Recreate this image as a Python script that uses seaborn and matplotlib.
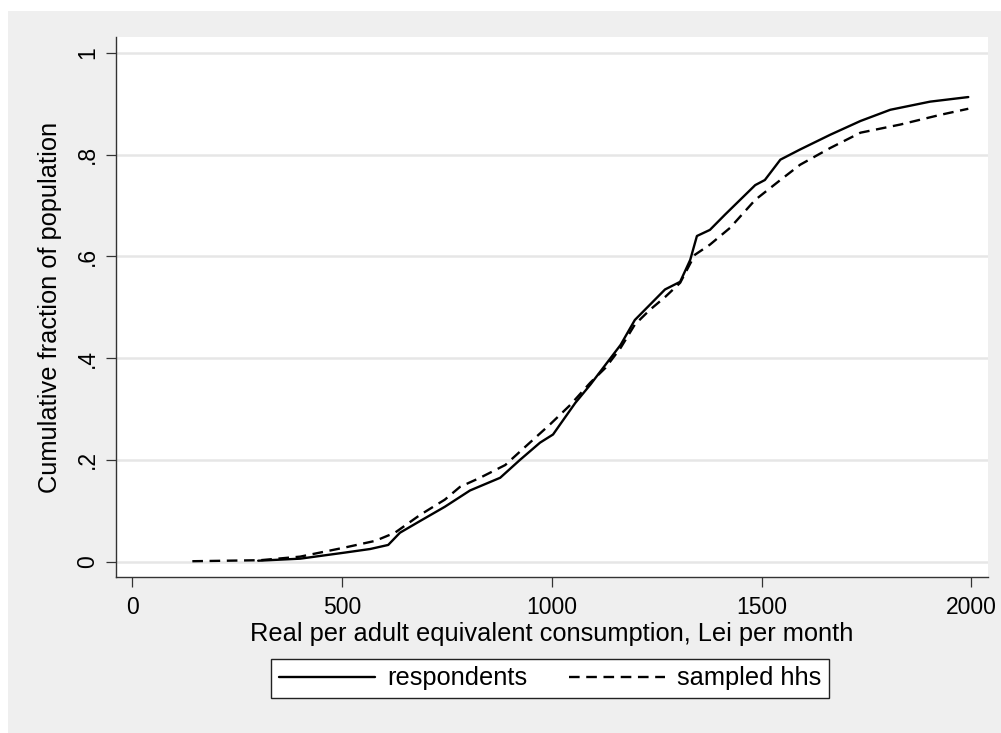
import numpy as np
import pandas as pd
import matplotlib
matplotlib.use("Agg")
import matplotlib.pyplot as plt
from matplotlib.patches import Rectangle
from matplotlib.lines import Line2D
import seaborn as sns

# Cumulative distribution of real per adult equivalent consumption (Lei per month)
resp_x = [300, 400, 507, 567, 610, 638, 686, 745, 805, 877, 924, 972, 1003, 1020,
          1056, 1092, 1128, 1164, 1198, 1234, 1270, 1306, 1330, 1346, 1377, 1413,
          1449, 1485, 1508, 1545, 1592, 1664, 1736, 1807, 1902, 1993]
resp_y = [0.002, 0.006, 0.018, 0.025, 0.033, 0.057, 0.080, 0.108, 0.140, 0.165,
          0.200, 0.234, 0.250, 0.270, 0.312, 0.348, 0.387, 0.426, 0.475, 0.505,
          0.535, 0.550, 0.593, 0.640, 0.652, 0.682, 0.711, 0.740, 0.750, 0.790,
          0.810, 0.839, 0.866, 0.888, 0.904, 0.913]

hhs_x = [143, 305, 400, 507, 579, 626, 686, 745, 781, 829, 889, 937, 996, 1044,
         1092, 1128, 1164, 1198, 1234, 1270, 1306, 1341, 1377, 1425, 1485, 1545,
         1592, 1664, 1736, 1831, 1926, 1993]
hhs_y = [0.001, 0.003, 0.010, 0.028, 0.041, 0.057, 0.092, 0.122, 0.147, 0.165,
         0.190, 0.226, 0.270, 0.308, 0.352, 0.381, 0.420, 0.466, 0.495, 0.520,
         0.548, 0.603, 0.623, 0.656, 0.711, 0.750, 0.780, 0.813, 0.843, 0.859,
         0.878, 0.890]

series_names = ["respondents", "sampled hhs"]
x_ticks = [0, 500, 1000, 1500, 2000]
y_ticks = [0, 0.2, 0.4, 0.6, 0.8, 1.0]
y_tick_labels = ["0", ".2", ".4", ".6", ".8", "1"]

df = pd.concat([
    pd.DataFrame({"x": resp_x, "y": resp_y, "group": series_names[0]}),
    pd.DataFrame({"x": hhs_x, "y": hhs_y, "group": series_names[1]}),
], ignore_index=True)

sns.set_theme(style="white")
plt.rcParams["font.family"] = ["Liberation Sans", "DejaVu Sans"]
plt.rcParams["text.color"] = "black"
plt.rcParams["axes.labelcolor"] = "black"
plt.rcParams["xtick.color"] = "black"
plt.rcParams["ytick.color"] = "black"

W, H = 1001, 733
fig = plt.figure(figsize=(W / 100, H / 100), dpi=100)
fig.patch.set_facecolor("white")
# light grey outer panel behind everything
fig.patches.append(Rectangle((8 / W, 0), 1 - 8 / W, (H - 11) / H,
                             transform=fig.transFigure, facecolor="#efefef",
                             edgecolor="none", zorder=-10))

ax = fig.add_axes([116 / W, (H - 577) / H, 872 / W, 540 / H])
ax.set_facecolor("white")

LW = 1.7
sns.lineplot(data=df, x="x", y="y", style="group", style_order=series_names,
             dashes={"respondents": "", "sampled hhs": (4.5, 2.8)},
             color="black", linewidth=LW, estimator=None, sort=False,
             ax=ax, legend=False)

ax.set_xlim(-39, 2040)
ax.set_ylim(-0.030, 1.031)
ax.set_xticks(x_ticks)
ax.set_xticklabels([str(t) for t in x_ticks])
ax.set_yticks(y_ticks)
ax.set_yticklabels(y_tick_labels, rotation=90, va="center")

ax.grid(axis="y", color="#e6e6e6", linewidth=1.8)
ax.grid(axis="x", visible=False)
ax.set_axisbelow(True)

for side in ["top", "right"]:
    ax.spines[side].set_visible(False)
for side in ["left", "bottom"]:
    ax.spines[side].set_color("#333333")
    ax.spines[side].set_linewidth(1.0)

ax.tick_params(axis="both", which="major", direction="out", length=7,
               width=0.9, color="#333333", labelsize=16.5, pad=7,
               left=True, bottom=True)
ax.tick_params(axis="y", pad=5)

ax.set_xlabel("Real per adult equivalent consumption, Lei per month",
              fontsize=18.3, labelpad=2)
ax.set_ylabel("Cumulative fraction of population", fontsize=18.3, labelpad=10)

handles = [Line2D([], [], color="black", linewidth=LW, linestyle="-"),
           Line2D([], [], color="black", linewidth=LW, linestyle=(0, (4.5, 2.8)))]
leg = fig.legend(handles, series_names, loc="center",
                 bbox_to_anchor=(550 / W, 1 - 678.5 / H), ncol=2,
                 fontsize=18.3, frameon=True, fancybox=False, framealpha=1,
                 handlelength=3.8, handletextpad=0.45, columnspacing=1.65,
                 borderpad=0.3, borderaxespad=0)
leg.get_frame().set_edgecolor("#222222")
leg.get_frame().set_linewidth(1.0)
leg.get_frame().set_facecolor("white")

fig.savefig("out.png", dpi=100)
